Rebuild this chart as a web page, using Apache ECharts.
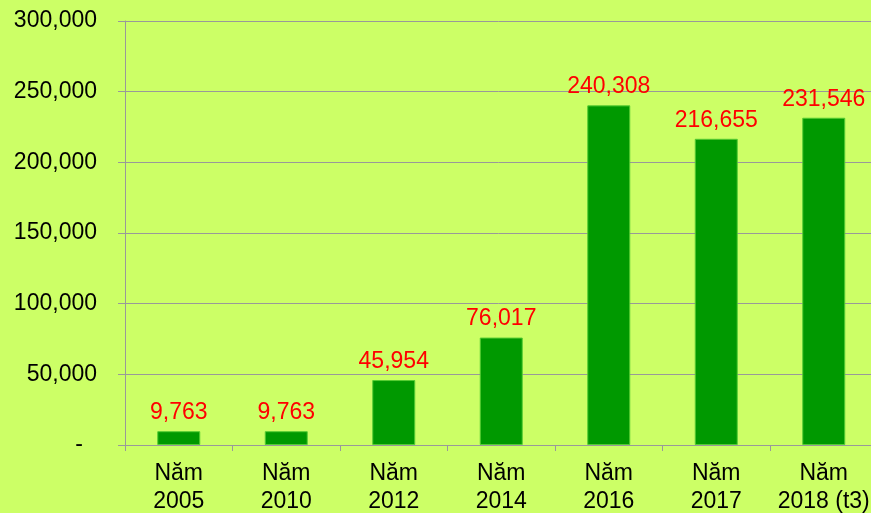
<!DOCTYPE html>
<html><head><meta charset="utf-8">
<script src="https://cdn.jsdelivr.net/npm/echarts@6/dist/echarts.min.js"></script>
<style>html,body{margin:0;padding:0;background:#CCFF66;}#c{width:871px;height:513px;}</style>
</head><body><div id="c"></div>
<script>
const categories = ['Năm\n2005','Năm\n2010','Năm\n2012','Năm\n2014','Năm\n2016','Năm\n2017','Năm\n2018 (t3)'];
const values = [9763, 9763, 45954, 76017, 240308, 216655, 231546];
const yTicks = [0, 50000, 100000, 150000, 200000, 250000, 300000];

const chart = echarts.init(document.getElementById('c'), null, {renderer:'canvas'});
const fmt = v => v.toLocaleString('en-US');
chart.setOption({
  backgroundColor: '#CCFF66',
  animation: false,
  grid: {left: 125, top: 21, height: 424, width: 752.5, containLabel: false, outerBoundsMode: 'none'},
  xAxis: {
    type: 'category', data: categories,
    axisLine: {lineStyle: {color: '#999999', width: 1}},
    axisTick: {show: true, length: 6, lineStyle: {color: '#999999'}},
    axisLabel: {color: '#000', fontFamily: 'Liberation Sans', fontSize: 23, lineHeight: 28, margin: 15, interval: 0}
  },
  yAxis: {
    type: 'value', min: yTicks[0], max: yTicks[yTicks.length-1], interval: 50000,
    axisLine: {show: true, lineStyle: {color: '#999999'}},
    axisTick: {show: true, length: 7, lineStyle: {color: '#999999'}},
    splitLine: {show: true, lineStyle: {color: '#999999', width: 1}},
    axisLabel: {
      color: '#000', fontFamily: 'Liberation Sans', fontSize: 23, margin: 28,
      formatter: v => v === 0 ? '{d|-}' : fmt(v),
      rich: {d: {color: '#000', fontFamily: 'Liberation Sans', fontSize: 23, padding: [0, 14, 0, 0]}}
    }
  },
  series: [{
    type: 'bar', data: values, barWidth: 43,
    itemStyle: {color: '#009900', borderColor: '#55CC33', borderWidth: 1},
    label: {show: true, position: 'top', distance: 7, color: '#FF0000', fontFamily: 'Liberation Sans', fontSize: 23,
      formatter: p => fmt(p.value)}
  }]
});
</script></body></html>
